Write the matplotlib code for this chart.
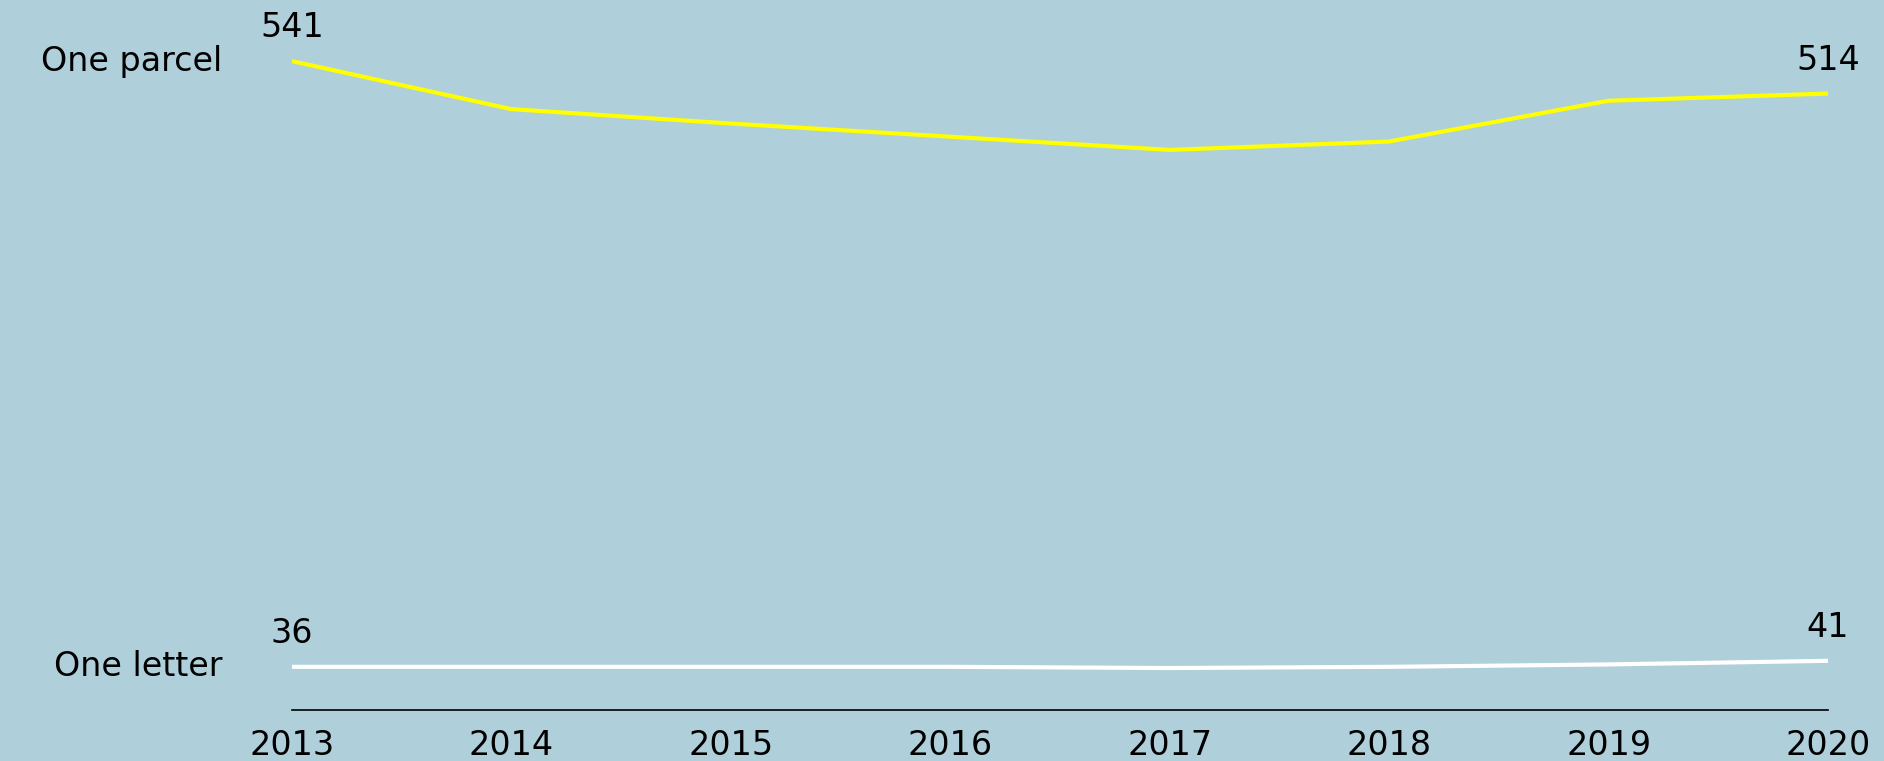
import matplotlib
matplotlib.use("Agg")
from matplotlib import pyplot as plt

years = [2013, 2014, 2015, 2016, 2017, 2018, 2019, 2020]
parcel = [541, 501, 489, 478, 467, 474, 508, 514]
letter = [36, 36, 36, 36, 35, 36, 38, 41]

bg = "#AFCFDA"
plt.rcParams['font.family'] = ['DejaVu Sans']

fig = plt.figure(figsize=(18.84, 7.61), dpi=100, facecolor=bg)
ax = fig.add_axes([292 / 1884, 51 / 761, (1828 - 292) / 1884, 710 / 761])
ax.set_facecolor(bg)

ax.plot(years, parcel, color="#FFFF00", lw=3, solid_capstyle="butt")
ax.plot(years, letter, color="white", lw=3, solid_capstyle="butt")

ax.set_xlim(years[0], years[-1])
ax.set_ylim(0, 592)

for s in ["top", "right", "left"]:
    ax.spines[s].set_visible(False)
ax.spines["bottom"].set_color("black")
ax.spines["bottom"].set_linewidth(1.2)
ax.set_yticks([])
ax.set_xticks(years)
ax.set_xticklabels([str(y) for y in years])
ax.tick_params(axis="x", length=0, pad=14, labelsize=24)

fs = 24
# series labels on the left, first/last values above the line ends
for vals, name in [(parcel, "One parcel"), (letter, "One letter")]:
    ax.annotate(name, xy=(years[0], vals[0]), xytext=(-50, 0), textcoords="offset points",
                ha="right", va="center", fontsize=fs, color="black")
    ax.annotate(str(vals[0]), xy=(years[0], vals[0]), xytext=(0, 24), textcoords="offset points",
                ha="center", va="center", fontsize=fs, color="black")
    ax.annotate(str(vals[-1]), xy=(years[-1], vals[-1]), xytext=(0, 24), textcoords="offset points",
                ha="center", va="center", fontsize=fs, color="black")

fig.savefig("out.png", dpi=100, facecolor=bg)
